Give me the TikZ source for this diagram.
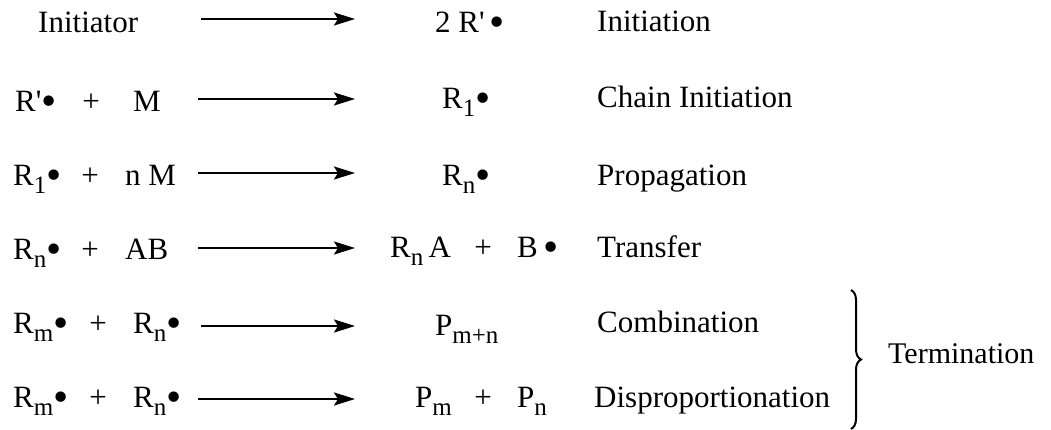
\documentclass[tikz,border=0pt]{standalone}
\usepackage{fontspec}
\setmainfont{Liberation Serif}
\usetikzlibrary{arrows.meta,decorations.pathreplacing}
% lowered subscript in text
\newcommand\lo[1]{\raisebox{-8pt}{\fontsize{25}{25}\selectfont #1}}
% radical dot, a little larger than the plain bullet
\newcommand\rad{\raisebox{-4.5pt}{\scalebox{1.4}{\textbullet}}}
\newcommand\pr{\textquotesingle}
\begin{document}
\begin{tikzpicture}[x=1pt,y=-1pt,
  every node/.style={inner sep=0pt, anchor=base west, font=\rmfamily\fontsize{31}{31}\selectfont},
  pl/.style={anchor=base},
  rxn/.style={line width=2.4pt, -{Stealth[length=21pt,width=13pt,inset=4pt]}},
  brc/.style={line width=2pt, decorate, decoration={brace, amplitude=10pt}}]
\useasboundingbox (0,0) rectangle (1051,429);

% row 1: initiation
\node (r1a) at (38,32) {Initiator};
\node (r1p) at (435,32) {2 R\pr\,\rad};
\node (r1l) at (597,31) {Initiation};
\coordinate (a1s) at (201,19); \coordinate (a1e) at (355,19);
\draw[rxn] (a1s) -- (a1e);

% row 2: chain initiation
\node (r2a) at (15,111) {R\pr\rad};
\node[pl] (r2plus) at (91,111) {+};
\node (r2b) at (133,111) {M};
\node (r2p) at (442,108) {R\lo{1}\rad};
\node (r2l) at (597,107) {Chain Initiation};
\coordinate (a2s) at (198,99); \coordinate (a2e) at (355,99);
\draw[rxn] (a2s) -- (a2e);

% row 3: propagation
\node (r3a) at (13,185) {R\lo{1}\rad};
\node[pl] (r3plus) at (90,185) {+};
\node (r3b) at (125,185) {n M};
\node (r3p) at (442,185) {R\lo{n}\rad};
\node (r3l) at (597,185) {Propagation};
\coordinate (a3s) at (198,173); \coordinate (a3e) at (355,173);
\draw[rxn] (a3s) -- (a3e);

% row 4: transfer
\node (r4a) at (13,259) {R\lo{n}\rad};
\node[pl] (r4plus) at (90,259) {+};
\node (r4b) at (125,259) {AB};
\node (r4p) at (390,257) {R\lo{n}\,A};
\node[pl] (r4pplus) at (483,257) {+};
\node (r4q) at (517,257) {B\,\rad};
\node (r4l) at (597,257) {Transfer};
\coordinate (a4s) at (198,248); \coordinate (a4e) at (355,248);
\draw[rxn] (a4s) -- (a4e);

% row 5: combination
\node (r5a) at (13,333) {R\lo{m}\rad};
\node[pl] (r5plus) at (98,333) {+};
\node (r5b) at (133,333) {R\lo{n}\rad};
\node (r5p) at (435,335) {P\lo{m+n}};
\node (r5l) at (597,332) {Combination};
\coordinate (a5s) at (201,326); \coordinate (a5e) at (355,326);
\draw[rxn] (a5s) -- (a5e);

% row 6: disproportionation
\node (r6a) at (13,407) {R\lo{m}\rad};
\node[pl] (r6plus) at (98,407) {+};
\node (r6b) at (133,407) {R\lo{n}\rad};
\node (r6p) at (415,407) {P\lo{m}};
\node[pl] (r6pplus) at (483,407) {+};
\node (r6q) at (517,407) {P\lo{n}};
\node (r6l) at (594,407) {Disproportionation};
\coordinate (a6s) at (198,399); \coordinate (a6e) at (355,399);
\draw[rxn] (a6s) -- (a6e);

% termination brace
\coordinate (bt) at (851,290); \coordinate (bb) at (851,429);
\draw[brc] (bt) -- (bb);
\node[font=\rmfamily\fontsize{30}{30}\selectfont] (term) at (888,363) {Termination};
\end{tikzpicture}
\end{document}
